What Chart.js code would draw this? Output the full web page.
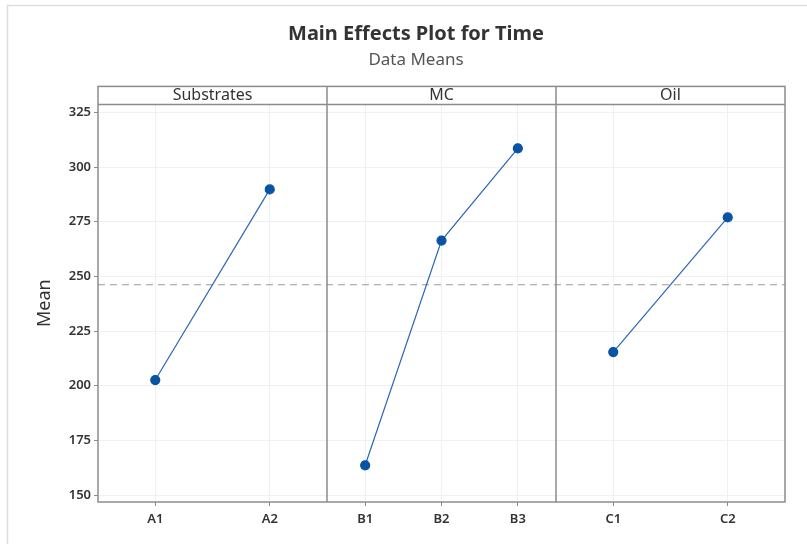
<!DOCTYPE html>
<html>
<head>
<meta charset="utf-8">
<title>Main Effects Plot for Time</title>
<script src="https://cdn.jsdelivr.net/npm/chart.js@4.4.1/dist/chart.umd.min.js"></script>
<style>
  html, body { margin: 0; padding: 0; background: #fff; }
</style>
</head>
<body>
<canvas id="effects" width="807" height="544"></canvas>
<script>
// factor names and level means
const factors = ["Substrates", "MC", "Oil"];
const substrateLevels = ["A1", "A2"];
const substrateMeans = [202.6, 289.8];
const mcLevels = ["B1", "B2", "B3"];
const mcMeans = [163.6, 266.4, 308.6];
const oilLevels = ["C1", "C2"];
const oilMeans = [215.4, 277.0];
const meanTicks = [150, 175, 200, 225, 250, 275, 300, 325];

// overall mean = mean of one factor's level means (balanced design)
const grandMean = substrateMeans.reduce((a, b) => a + b, 0) / substrateMeans.length;

const lineBlue = "#2a67b3";
const dotBlue = "#0853a4";
const frameGray = "#8c8c8c";
const gridGray = "#f0f0f0";

Chart.defaults.font.family = "'Noto Sans', 'Open Sans', sans-serif";
Chart.defaults.color = "#333";

function panelAxis(levels) {
  return {
    type: "category",
    labels: levels,
    position: "bottom",
    stack: "panels",
    stackWeight: 1,
    offset: true,
    border: { display: false },
    grid: { color: gridGray, tickColor: frameGray, tickLength: 4, lineWidth: 1 },
    ticks: { padding: 5, font: { size: 13, weight: "600" }, color: "#333" },
    afterFit: function (scale) { scale.height = 42; }
  };
}

function series(values, axisId) {
  return {
    data: values,
    xAxisID: axisId,
    yAxisID: "y",
    borderColor: lineBlue,
    borderWidth: 1.2,
    pointRadius: 4.5,
    pointHoverRadius: 4.5,
    pointBackgroundColor: dotBlue,
    pointBorderColor: dotBlue,
    tension: 0
  };
}

const panelFrame = {
  id: "panelFrame",
  beforeDraw(chart) {
    const ctx = chart.ctx;
    ctx.save();
    ctx.strokeStyle = "#dedede";
    ctx.lineWidth = 1.5;
    ctx.beginPath();
    ctx.moveTo(7.5, chart.height);
    ctx.lineTo(7.5, 5.5);
    ctx.lineTo(chart.width, 5.5);
    ctx.stroke();
    ctx.restore();
  },
  beforeDatasetsDraw(chart) {
    const ctx = chart.ctx;
    const area = chart.chartArea;
    const y = chart.scales.y.getPixelForValue(grandMean);
    ctx.save();
    ctx.strokeStyle = "#9a9a9a";
    ctx.lineWidth = 1.2;
    ctx.setLineDash([7, 5]);
    ctx.beginPath();
    ctx.moveTo(area.left, y);
    ctx.lineTo(area.right, y);
    ctx.stroke();
    ctx.restore();
  },
  afterDraw(chart) {
    const ctx = chart.ctx;
    const area = chart.chartArea;
    const headTop = area.top - 18;
    const axes = ["x1", "x2", "x3"].map(id => chart.scales[id]);
    ctx.save();
    ctx.strokeStyle = frameGray;
    ctx.lineWidth = 1.5;
    ctx.strokeRect(area.left, headTop, area.right - area.left, area.bottom - headTop);
    ctx.beginPath();
    ctx.moveTo(area.left, area.top);
    ctx.lineTo(area.right, area.top);
    axes.slice(1).forEach(s => {
      ctx.moveTo(s.left, headTop);
      ctx.lineTo(s.left, area.bottom);
    });
    ctx.stroke();
    ctx.fillStyle = "#333";
    ctx.font = "16px 'Noto Sans', 'Open Sans', sans-serif";
    ctx.textAlign = "center";
    ctx.textBaseline = "middle";
    axes.forEach((s, i) => {
      ctx.fillText(factors[i], (s.left + s.right) / 2, headTop + 9.5);
    });
    ctx.restore();
  }
};

new Chart(document.getElementById("effects"), {
  type: "line",
  data: {
    datasets: [
      series(substrateMeans, "x1"),
      series(mcMeans, "x2"),
      series(oilMeans, "x3")
    ]
  },
  options: {
    responsive: false,
    animation: false,
    layout: { padding: { left: 47, right: 22, top: 0, bottom: 0 } },
    plugins: {
      legend: { display: false },
      tooltip: { enabled: false },
      title: {
        display: true,
        text: "Main Effects Plot for Time",
        color: "#333",
        font: { size: 20, weight: "bold" },
        padding: { top: 22, bottom: 0 }
      },
      subtitle: {
        display: true,
        text: "Data Means",
        color: "#555",
        font: { size: 17 },
        padding: { top: 4, bottom: 34 }
      }
    },
    scales: {
      x1: panelAxis(substrateLevels),
      x2: panelAxis(mcLevels),
      x3: panelAxis(oilLevels),
      y: {
        type: "linear",
        position: "left",
        min: 146.8,
        max: 328.7,
        afterBuildTicks: function (scale) {
          scale.ticks = meanTicks.map(v => ({ value: v }));
        },
        afterFit: function (scale) { scale.width = 51; },
        border: { display: false },
        grid: { color: gridGray, tickColor: frameGray, tickLength: 4 },
        ticks: { padding: 3, font: { size: 13, weight: "600" }, color: "#333" },
        title: {
          display: true,
          text: "Mean",
          color: "#333",
          font: { size: 18 },
          padding: { top: -13, bottom: 0 }
        }
      }
    }
  },
  plugins: [panelFrame]
});
</script>
</body>
</html>
